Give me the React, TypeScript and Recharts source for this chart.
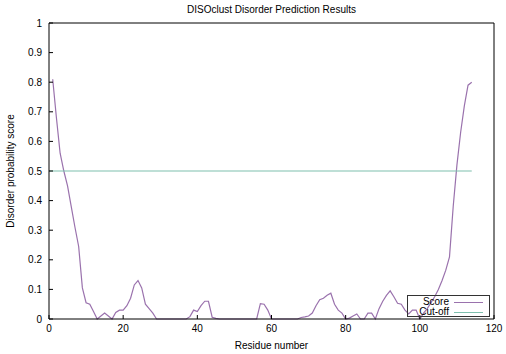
import { Line, LineChart, XAxis, YAxis } from 'recharts';

// disorder score for residues 1..114
const scores = [
  0.81, 0.68, 0.56, 0.5, 0.45, 0.38, 0.31, 0.245, 0.105, 0.055,
  0.05, 0.025, 0.0, 0.01, 0.02, 0.01, 0.0, 0.022, 0.03, 0.03,
  0.045, 0.07, 0.115, 0.13, 0.105, 0.05, 0.035, 0.02, 0.0, 0.0,
  0.0, 0.0, 0.0, 0.0, 0.0, 0.0, 0.0, 0.008, 0.03, 0.025,
  0.045, 0.06, 0.06, 0.006, 0.002, 0.0, 0.0, 0.0, 0.0, 0.0,
  0.0, 0.0, 0.0, 0.0, 0.0, 0.0, 0.052, 0.05, 0.03, 0.0,
  0.0, 0.0, 0.0, 0.0, 0.0, 0.0, 0.0, 0.005, 0.007, 0.01,
  0.02, 0.045, 0.065, 0.07, 0.08, 0.087, 0.05, 0.03, 0.02, 0.0,
  0.003, 0.01, 0.017, 0.0, 0.0, 0.02, 0.02, 0.0, 0.035, 0.06,
  0.08, 0.095, 0.075, 0.053, 0.05, 0.03, 0.017, 0.03, 0.03, 0.0,
  0.02, 0.035, 0.055, 0.075, 0.1, 0.13, 0.165, 0.21, 0.38, 0.52,
  0.63, 0.72, 0.79, 0.8
];

const cutoffValue = 0.5;
const cutoffResidues = [0, 114];

const xTicks = [0, 20, 40, 60, 80, 100, 120];
const yTicks = [0, 0.1, 0.2, 0.3, 0.4, 0.5, 0.6, 0.7, 0.8, 0.9, 1];

const scoreColor = '#9a72ad';
const cutoffColor = '#7fbfae';
const font = "'Liberation Sans', Arial, sans-serif";

const scoreData = scores.map((score, i) => ({ residue: i + 1, score }));
const cutoffData = cutoffResidues.map((residue) => ({ residue, cutoff: cutoffValue }));

const tickStyle = { fontSize: 10, fill: '#000', fontFamily: font };
const blank = () => '';

export default function App() {
  return (
    <div
      style={{
        position: 'absolute',
        left: 0,
        top: 0,
        width: 506,
        height: 354,
        background: '#fff',
        fontFamily: font
      }}
    >
      <div
        style={{
          position: 'absolute',
          top: 4,
          left: 49,
          width: 445,
          textAlign: 'center',
          fontSize: 10,
          lineHeight: '12px',
          color: '#000'
        }}
      >
        DISOclust Disorder Prediction Results
      </div>

      <LineChart width={506} height={354} margin={{ top: 13, right: 0, bottom: 0, left: 0 }}>
        <XAxis
          xAxisId="top"
          orientation="top"
          type="number"
          dataKey="residue"
          domain={[0, 120]}
          ticks={xTicks}
          height={10}
          tickSize={-4}
          tickFormatter={blank}
          stroke="#000"
        />
        <XAxis
          xAxisId="bottom"
          type="number"
          dataKey="residue"
          domain={[0, 120]}
          ticks={xTicks}
          height={35}
          tickSize={-4}
          tickMargin={10}
          tick={tickStyle}
          stroke="#000"
          label={{
            value: 'Residue number',
            position: 'insideBottom',
            offset: 5,
            style: { fontSize: 10, fill: '#000', fontFamily: font }
          }}
        />
        <YAxis
          yAxisId="left"
          type="number"
          domain={[0, 1]}
          ticks={yTicks}
          width={49}
          tickSize={-4}
          tickMargin={11}
          tick={tickStyle}
          stroke="#000"
          label={{
            value: 'Disorder probability score',
            angle: -90,
            position: 'insideLeft',
            offset: 10,
            style: { fontSize: 10, fill: '#000', fontFamily: font, textAnchor: 'middle' }
          }}
        />
        <YAxis
          yAxisId="right"
          orientation="right"
          type="number"
          domain={[0, 1]}
          ticks={yTicks}
          width={12}
          tickSize={-4}
          tickFormatter={blank}
          stroke="#000"
        />
        <Line
          xAxisId="bottom"
          yAxisId="left"
          data={scoreData}
          dataKey="score"
          type="linear"
          stroke={scoreColor}
          strokeWidth={1.2}
          dot={false}
          isAnimationActive={false}
        />
        <Line
          xAxisId="bottom"
          yAxisId="left"
          data={cutoffData}
          dataKey="cutoff"
          type="linear"
          stroke={cutoffColor}
          strokeWidth={1.2}
          dot={false}
          isAnimationActive={false}
        />
      </LineChart>

      <div
        style={{
          position: 'absolute',
          left: 407,
          top: 295,
          width: 81,
          height: 20,
          border: '1px solid #333',
          fontSize: 10,
          color: '#000'
        }}
      >
        {[
          { name: 'Score', color: scoreColor },
          { name: 'Cut-off', color: cutoffColor }
        ].map((item, i) => (
          <div key={item.name} style={{ position: 'absolute', top: 1 + i * 10, left: 0, height: 10, width: 81 }}>
            <span style={{ position: 'absolute', right: 40, top: 0, lineHeight: '10px' }}>{item.name}</span>
            <span
              style={{
                position: 'absolute',
                left: 46,
                top: 5,
                width: 29,
                height: 0,
                borderTop: `1.2px solid ${item.color}`
              }}
            />
          </div>
        ))}
      </div>
    </div>
  );
}
